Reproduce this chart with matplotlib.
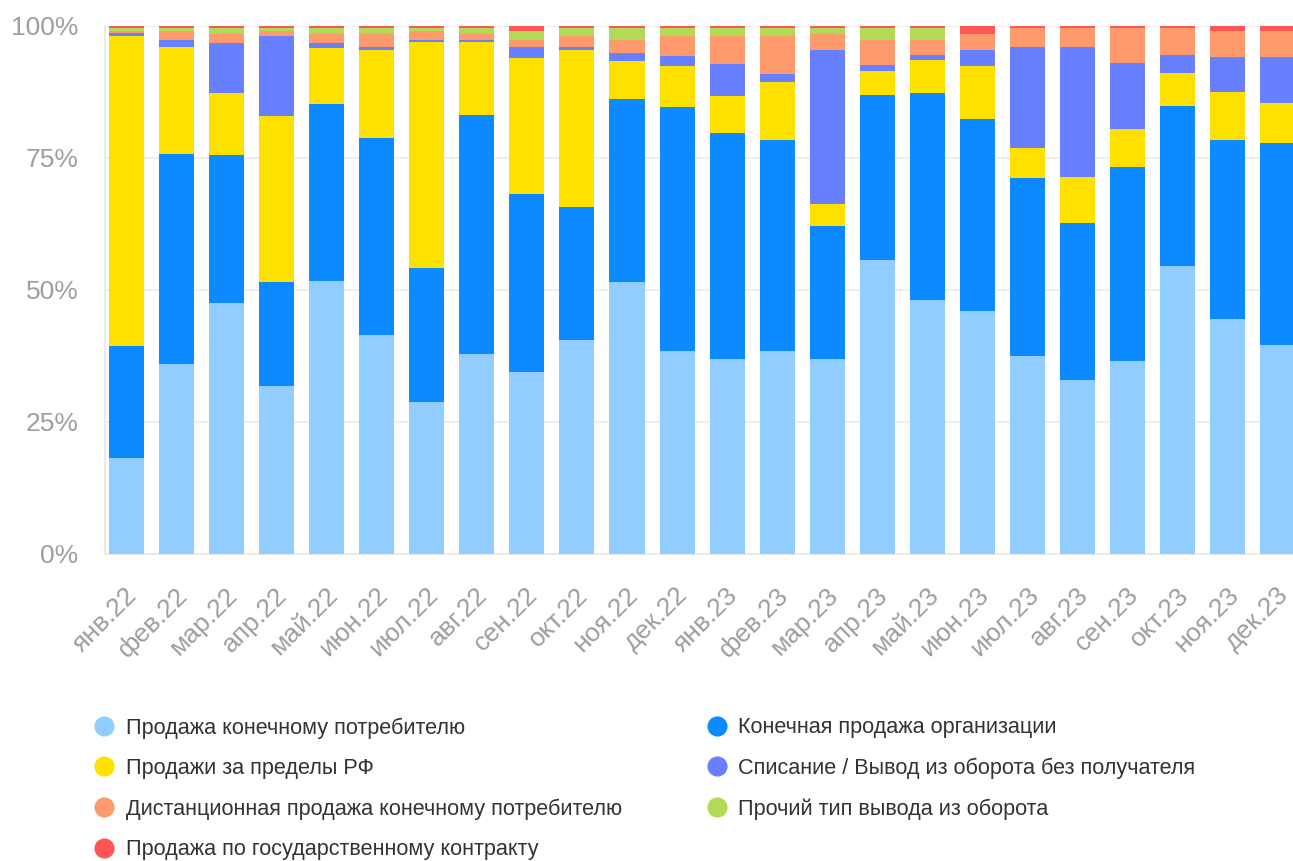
import numpy as np
import matplotlib
matplotlib.use("Agg")
import matplotlib.pyplot as plt
from matplotlib.lines import Line2D
from matplotlib.transforms import ScaledTranslation

plt.rcParams["font.family"] = ["Liberation Sans", "DejaVu Sans"]

# ── Data (share of each withdrawal type, % per month) ─────────────────────────
months = ["янв.22", "фев.22", "мар.22", "апр.22", "май.22", "июн.22",
          "июл.22", "авг.22", "сен.22", "окт.22", "ноя.22", "дек.22",
          "янв.23", "фев.23", "мар.23", "апр.23", "май.23", "июн.23",
          "июл.23", "авг.23", "сен.23", "окт.23", "ноя.23", "дек.23"]

retail      = [18.2, 36.0, 47.5, 31.8, 51.7, 41.4, 28.8, 37.8, 34.4, 40.5, 51.5, 38.4,
               36.9, 38.4, 36.9, 55.6, 48.1, 46.0, 37.5, 32.9, 36.5, 54.5, 44.5, 39.5]
org_sale    = [21.2, 39.9, 28.2, 19.7, 33.7, 37.3, 25.4, 45.4, 33.7, 25.2, 34.8, 46.4,
               43.0, 39.9, 25.2, 31.2, 39.4, 36.3, 33.7, 29.7, 36.7, 30.3, 33.9, 38.2]
export      = [58.7, 20.1, 11.7, 31.4, 10.6, 16.8, 43.0, 13.8, 25.9, 29.9, 7.2, 7.8,
               7.0, 11.0, 4.2, 4.5, 6.1, 10.0, 5.7, 8.7, 7.2, 6.2, 9.1, 7.6]
write_off   = [0.5, 1.5, 9.5, 15.2, 0.95, 0.4, 0.4, 0.4, 1.9, 0.4, 1.5, 1.9,
               6.1, 1.5, 29.1, 1.1, 0.95, 3.0, 19.1, 24.6, 12.5, 3.4, 6.6, 8.7]
remote      = [0.4, 1.6, 1.6, 0.95, 1.6, 2.5, 1.6, 1.0, 1.5, 2.1, 2.5, 3.65,
               5.2, 7.2, 3.0, 4.9, 3.0, 3.0, 3.6, 3.6, 6.6, 5.1, 4.9, 4.9]
other       = [0.5, 0.5, 1.1, 0.5, 1.1, 1.1, 0.5, 1.1, 1.6, 1.5, 2.1, 1.5,
               1.5, 1.5, 1.1, 2.1, 2.1, 0.0, 0.0, 0.0, 0.0, 0.0, 0.0, 0.0]
gov         = [0.5, 0.5, 0.5, 0.5, 0.5, 0.5, 0.5, 0.5, 1.0, 0.5, 0.5, 0.5,
               0.5, 0.5, 0.5, 0.5, 0.5, 1.6, 0.5, 0.5, 0.5, 0.5, 1.0, 1.0]

series_names = ["Продажа конечному потребителю",
                "Конечная продажа организации",
                "Продажи за пределы РФ",
                "Списание / Вывод из оборота без получателя",
                "Дистанционная продажа конечному потребителю",
                "Прочий тип вывода из оборота",
                "Продажа по государственному контракту"]
series_colors = ["#91CEFF", "#0D8AFF", "#FFE100", "#6880FF",
                 "#FF9A6C", "#B0DB55", "#FF5555"]

# ── Plot ──────────────────────────────────────────────────────────────────────
values = np.array([retail, org_sale, export, write_off, remote, other, gov])
values = values / values.sum(axis=0) * 100   # percent stacking
x = np.arange(len(months))

fig = plt.figure(figsize=(12.93, 8.61), dpi=100)
ax = fig.add_axes([0.081, 0.3566, 0.919, 0.6134])

bottom = np.zeros(len(months))
handles = []
for vals, name, col in zip(values, series_names, series_colors):
    ax.bar(x, vals, bottom=bottom, width=0.7, color=col, linewidth=0, zorder=3)
    bottom += vals
    handles.append(Line2D([], [], marker="o", linestyle="none", markersize=13.5,
                          markerfacecolor=col, markeredgecolor=col, label=name))

ax.set_xlim(-0.43, 23.3)
ax.set_ylim(0, 100)
ax.set_yticks([0, 25, 50, 75, 100])
ax.set_yticklabels(["0%", "25%", "50%", "75%", "100%"])
ax.grid(axis="y", color="#EFEFEF", linewidth=1.5, zorder=0)
ax.set_axisbelow(True)
for s in ["top", "right"]:
    ax.spines[s].set_visible(False)
for s in ["left", "bottom"]:
    ax.spines[s].set_color("#EBEBEB")
    ax.spines[s].set_linewidth(1.5)

ax.tick_params(axis="y", length=0, pad=19, labelsize=19, labelcolor="#9E9E9E")
ax.tick_params(axis="x", length=0, pad=27, labelsize=19, labelcolor="#9E9E9E")
ax.set_xticks(x)
ax.set_xticklabels(months, rotation=45, ha="right", va="center",
                   rotation_mode="anchor")
shift = ScaledTranslation(7 / 100, 0, fig.dpi_scale_trans)
for lbl in ax.get_xticklabels():
    lbl.set_transform(lbl.get_transform() + shift)

# two legend columns, placed separately
leg_kw = dict(frameon=False, fontsize=15.6, labelcolor="#333333",
              handlelength=1.0, handletextpad=0.5, labelspacing=0.9,
              borderpad=0, borderaxespad=0, loc="upper left")
left_col = [handles[i] for i in (0, 2, 4, 6)]
right_col = [handles[i] for i in (1, 3, 5)]
fig.legend(handles=left_col, bbox_to_anchor=(0.072, 0.167), **leg_kw)
fig.legend(handles=right_col, bbox_to_anchor=(0.546, 0.167), **leg_kw)

fig.savefig("out.png", dpi=100)
